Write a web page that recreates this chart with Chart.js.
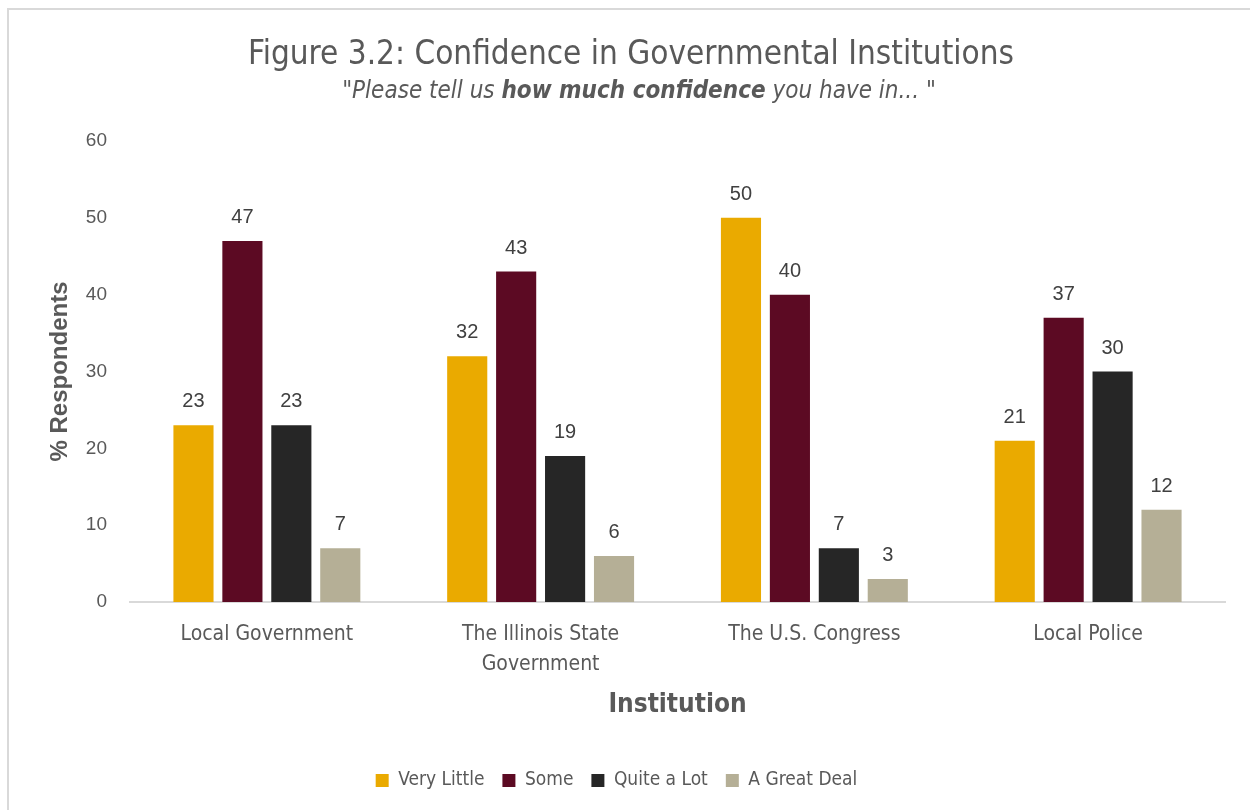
<!DOCTYPE html>
<html>
<head>
<meta charset="utf-8">
<script src="https://cdn.jsdelivr.net/npm/chart.js@4/dist/chart.umd.min.js"></script>
<style>
  html, body { margin: 0; padding: 0; background: #fff; }
  #wrap { width: 1250px; height: 810px; position: relative; }
</style>
</head>
<body>
<div id="wrap"><canvas id="chart" width="1250" height="810"></canvas></div>
<script>
// institutions on the x axis
const institutions = [
  'Local Government',
  ['The Illinois State', 'Government'],
  'The U.S. Congress',
  'Local Police'
];

// % of respondents per answer
const veryLittle = [23, 32, 50, 21];
const some       = [47, 43, 40, 37];
const quiteALot  = [23, 19, 7, 30];
const greatDeal  = [7, 6, 3, 12];

const yTicks = [0, 10, 20, 30, 40, 50, 60];

const NARROW = '"Liberation Sans Narrow", "DejaVu Sans Condensed", "Liberation Sans", sans-serif';
const ARIAL = '"Liberation Sans", Arial, sans-serif';
const TEXT = '#595959';

// white background + light frame
const frame = {
  id: 'frame',
  beforeDraw(chart) {
    const ctx = chart.ctx;
    ctx.save();
    ctx.fillStyle = '#fff';
    ctx.fillRect(0, 0, chart.width, chart.height);
    ctx.strokeStyle = '#d9d9d9';
    ctx.lineWidth = 2;
    ctx.beginPath();
    ctx.moveTo(8, chart.height + 2);
    ctx.lineTo(8, 9);
    ctx.lineTo(chart.width + 2, 9);
    ctx.stroke();
    ctx.restore();
  }
};

// title + subtitle with a bold run in the middle
const heading = {
  id: 'heading',
  afterDraw(chart) {
    const ctx = chart.ctx;
    const cx = 631;
    ctx.save();
    ctx.fillStyle = TEXT;
    ctx.textBaseline = 'alphabetic';
    ctx.textAlign = 'center';
    ctx.font = '33px ' + NARROW;
    ctx.fillText('Figure 3.2: Confidence in Governmental Institutions', cx, 64);

    const parts = [
      { t: '"Please tell us ', f: 'italic 24px ' + NARROW },
      { t: 'how much confidence', f: 'italic bold 24px ' + NARROW },
      { t: ' you have in... "', f: 'italic 24px ' + NARROW }
    ];
    let total = 0;
    parts.forEach(p => { ctx.font = p.f; p.w = ctx.measureText(p.t).width; total += p.w; });
    let x = 639 - total / 2;
    ctx.textAlign = 'left';
    parts.forEach(p => { ctx.font = p.f; ctx.fillText(p.t, x, 98); x += p.w; });
    ctx.restore();
  }
};

// value labels above each bar
const barValues = {
  id: 'barValues',
  afterDatasetsDraw(chart) {
    const ctx = chart.ctx;
    ctx.save();
    ctx.font = '20px ' + ARIAL;
    ctx.fillStyle = '#404040';
    ctx.textAlign = 'center';
    ctx.textBaseline = 'alphabetic';
    chart.data.datasets.forEach((ds, i) => {
      chart.getDatasetMeta(i).data.forEach((bar, j) => {
        ctx.fillText(ds.data[j], bar.x, bar.y - 18);
      });
    });
    ctx.restore();
  }
};

new Chart(document.getElementById('chart').getContext('2d'), {
  type: 'bar',
  data: {
    labels: institutions,
    datasets: [
      { label: 'Very Little', data: veryLittle, backgroundColor: '#eaaa00' },
      { label: 'Some', data: some, backgroundColor: '#5c0a23' },
      { label: 'Quite a Lot', data: quiteALot, backgroundColor: '#262626' },
      { label: 'A Great Deal', data: greatDeal, backgroundColor: '#b5af96' }
    ]
  },
  options: {
    responsive: false,
    animation: false,
    categoryPercentage: 0.715,
    barPercentage: 0.82,
    layout: { padding: { top: 141, left: 8, right: 25, bottom: 10 } },
    plugins: {
      legend: {
        position: 'bottom',
        labels: {
          boxWidth: 13,
          boxHeight: 13,
          padding: 18,
          color: TEXT,
          font: { family: NARROW, size: 19 }
        }
      },
      tooltip: { enabled: false }
    },
    scales: {
      x: {
        grid: { display: false },
        border: { color: '#d9d9d9', width: 2 },
        ticks: { color: TEXT, font: { family: NARROW, size: 21, lineHeight: 1.4 }, padding: 10 },
        title: {
          display: true,
          text: 'Institution',
          color: TEXT,
          font: { family: NARROW, size: 26, weight: 'bold' },
          padding: { top: 10, bottom: 32 }
        },
        afterFit: s => { s.height = 151; }
      },
      y: {
        min: 0,
        max: 60,
        grid: { display: false },
        border: { display: false },
        afterBuildTicks: s => { s.ticks = yTicks.map(v => ({ value: v })); },
        ticks: { color: TEXT, font: { family: ARIAL, size: 19 }, padding: 15 },
        title: {
          display: true,
          text: '% Respondents',
          color: TEXT,
          font: { family: ARIAL, size: 24, weight: 'bold' },
          padding: { top: 38, bottom: 0 }
        },
        afterFit: s => { s.width = 122; }
      }
    }
  },
  plugins: [frame, heading, barValues]
});
</script>
</body>
</html>
